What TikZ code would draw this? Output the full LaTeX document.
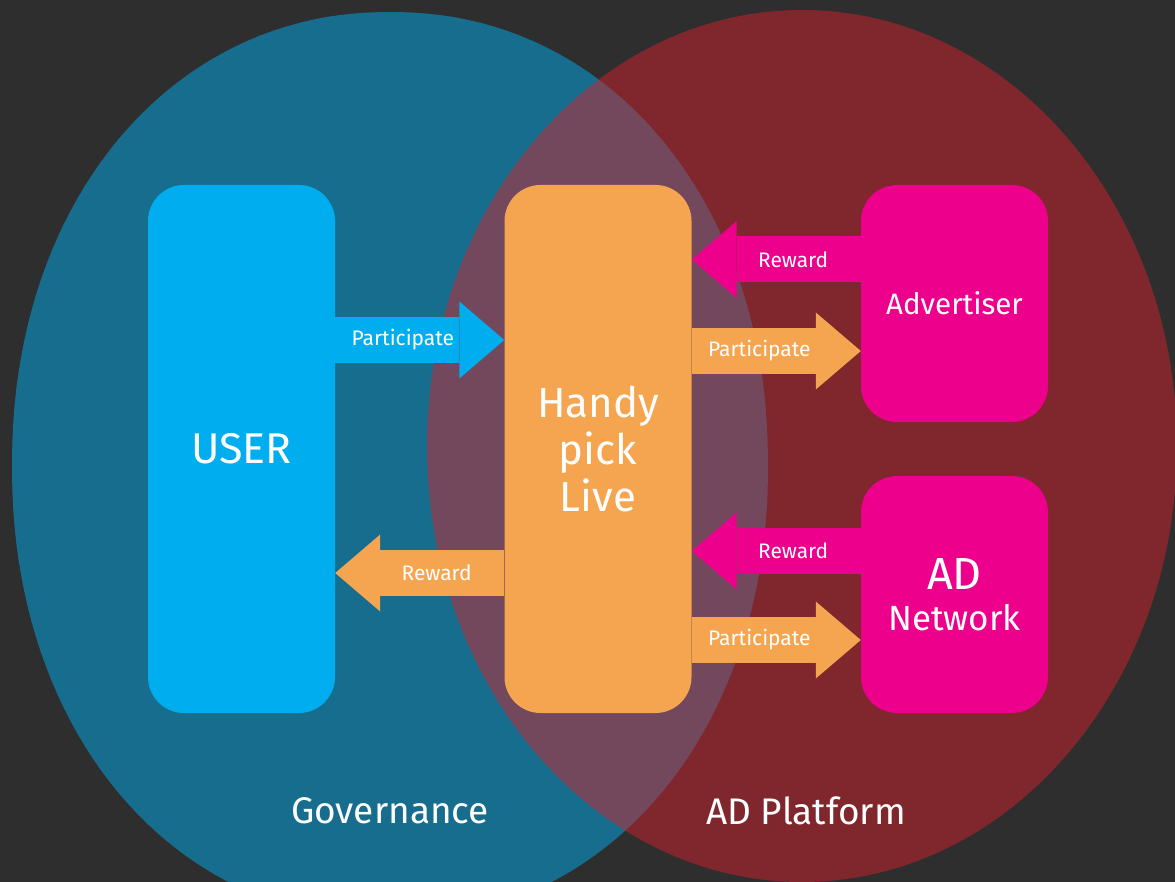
\documentclass[tikz,border=0pt]{standalone}
\usepackage{fontspec}
\setmainfont{Fira Sans}
\usetikzlibrary{arrows.meta}
\definecolor{bgdark}{HTML}{2E2E2E}
\definecolor{govblue}{HTML}{00ACEC}
\definecolor{adred}{HTML}{D0222C}
\definecolor{userblue}{HTML}{00AEEF}
\definecolor{hplorange}{HTML}{F5A54F}
\definecolor{admagenta}{HTML}{EC008C}

\begin{document}
\begin{tikzpicture}[x=1pt,y=-1pt,
  box/.style={fill=#1,rounded corners=36pt,minimum width=187pt,text=white,align=center,inner sep=0pt},
  flow/.style={draw=#1,line width=46pt,-{Triangle[length=45pt 0 0,width=77pt 0 0,line width=0pt 0 0]}},
  lbl/.style={text=white,font=\fontsize{21}{24}\selectfont,pos=.4},
  area/.style={text=white,font=\fontsize{37}{42}\selectfont}]
\fill[bgdark] (0,0) rectangle (1175,882);
\useasboundingbox (0,0) rectangle (1175,882);
\begin{scope}
\clip (0,0) rectangle (1175,882);
% governance blob, a bit squarer than an ellipse
\fill[govblue,fill opacity=.5] plot[domain=1:361,samples=181,variable=\t]
  ({390+378*sign(cos(\t))*abs(cos(\t))^(2/2.1)},{466+454*sign(sin(\t))*abs(sin(\t))^(2/2.1)}) -- cycle;
% ad platform
\fill[adred,fill opacity=.5] (802,446) ellipse [x radius=375,y radius=436];
\end{scope}
% the four parties
\node[box=userblue,minimum height=528pt,font=\fontsize{43}{47}\selectfont] (user) at (241.5,449) {USER};
\node[box=hplorange,minimum height=528pt,font=\fontsize{42}{47}\selectfont] (hpl) at (598,449) {Handy\\pick\\Live};
\node[box=admagenta,minimum height=237pt,font=\fontsize{29.5}{34}\selectfont] (adv) at (954.5,303.5) {Advertiser};
\node[box=admagenta,minimum height=237pt,font=\fontsize{35}{41}\selectfont] (adnet) at (954.5,594.5) {{\fontsize{45}{41}\selectfont AD}\\Network};
% flows between them
\draw[flow=userblue] (user.east |- 0,340) -- (hpl.west |- 0,340) node[lbl] {Participate};
\draw[flow=hplorange] (hpl.west |- 0,573) -- (user.east |- 0,573) node[lbl] {Reward};
\draw[flow=admagenta] (adv.west |- 0,259.5) -- (hpl.east |- 0,259.5) node[lbl] {Reward};
\draw[flow=hplorange] (hpl.east |- 0,351) -- (adv.west |- 0,351) node[lbl] {Participate};
\draw[flow=admagenta] (adnet.west |- 0,551) -- (hpl.east |- 0,551) node[lbl] {Reward};
\draw[flow=hplorange] (hpl.east |- 0,640) -- (adnet.west |- 0,640) node[lbl] {Participate};
% circle titles
\node[area] (gov) at (390,811) {Governance};
\node[area] (plat) at (806,811) {AD Platform};
\end{tikzpicture}
\end{document}
